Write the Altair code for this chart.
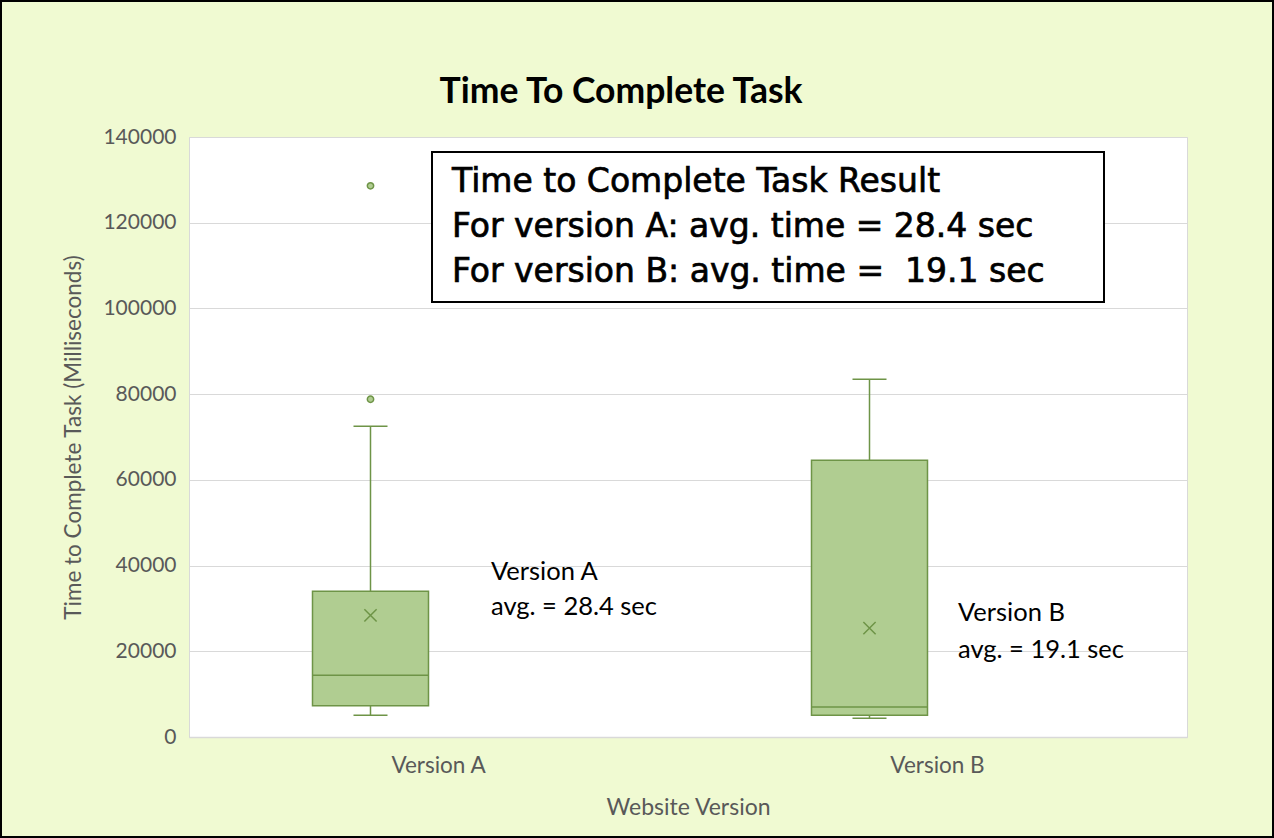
import altair as alt
import pandas as pd

# ---- data ----
versions = ["Version A", "Version B"]
whisker_low = [5100, 4400]
q1 = [7300, 5100]
median = [14400, 7000]
q3 = [34000, 64600]
whisker_high = [72500, 83500]
mean = [28400, 25400]
outlier_version = ["Version A", "Version A"]
outlier_value = [78800, 128600]
y_ticks = [0, 20000, 40000, 60000, 80000, 100000, 120000, 140000]

chart_title = "Time To Complete Task"
box_lines = [
    "Time to Complete Task Result",
    "For version A: avg. time = 28.4 sec",
    "For version B: avg. time =\u00a0 19.1 sec",
]
note_a = ["Version A", "avg. = 28.4 sec"]
note_b = ["Version B", "avg. = 19.1 sec"]

summary = pd.DataFrame({
    "version": versions, "low": whisker_low, "q1": q1, "median": median,
    "q3": q3, "high": whisker_high, "mean": mean,
})
outliers = pd.DataFrame({"version": outlier_version, "value": outlier_value})

FILL = "#B0CD91"
STROKE = "#6E9447"
GREY = "#595959"
FONT = "Lato"
NOTE_FONT = "DejaVu Sans"
OFF = -68
W, H = 998, 600

x = alt.X(
    "version:N",
    scale=alt.Scale(domain=versions, paddingInner=0, paddingOuter=0),
    axis=alt.Axis(
        title="Website Version", labelAngle=0, ticks=False,
        domainColor="#D9D9D9", domainWidth=1.5,
        labelFont=FONT, labelFontSize=22.5, labelColor=GREY, labelPadding=17,
        titleFont=FONT, titleFontSize=23, titleFontWeight="normal",
        titleColor=GREY, titlePadding=20,
    ),
)
yscale = alt.Scale(domain=[0, 140000], nice=False)
y = alt.Y(
    "low:Q", scale=yscale,
    axis=alt.Axis(
        values=y_ticks, format="d", domain=False, ticks=False,
        gridColor="#D9D9D9", gridWidth=1,
        title="Time to Complete Task (Milliseconds)",
        labelFont=FONT, labelFontSize=21, labelColor=GREY, labelPadding=13,
        titleFont=FONT, titleFontSize=22.5, titleFontWeight="normal",
        titleColor=GREY, titlePadding=17,
    ),
)

base = alt.Chart(summary)

whisker = base.mark_rule(color=STROKE, strokeWidth=1.5, xOffset=OFF).encode(
    x=x, y=y, y2="high:Q")
box = base.mark_bar(width=116, xOffset=OFF, fill=FILL, stroke=STROKE,
                    strokeWidth=1.5).encode(
    x=x, y=alt.Y("q1:Q", scale=yscale), y2="q3:Q")
med = base.mark_tick(size=116, thickness=1.5, color=STROKE, opacity=1,
                     xOffset=OFF).encode(x=x, y=alt.Y("median:Q", scale=yscale))
cap_lo = base.mark_tick(size=34, thickness=1.5, color=STROKE, opacity=1,
                        xOffset=OFF).encode(x=x, y=alt.Y("low:Q", scale=yscale))
cap_hi = base.mark_tick(size=34, thickness=1.5, color=STROKE, opacity=1,
                        xOffset=OFF).encode(x=x, y=alt.Y("high:Q", scale=yscale))
mean_pt = base.mark_point(shape="M-1,-1L1,1M1,-1L-1,1", size=150, strokeWidth=1.5,
                          color=STROKE, filled=False, opacity=1,
                          xOffset=OFF).encode(x=x, y=alt.Y("mean:Q", scale=yscale))
out_pt = alt.Chart(outliers).mark_point(shape="circle", size=40, filled=True,
                                        fill=FILL, stroke=STROKE, strokeWidth=1.5,
                                        opacity=1, xOffset=OFF).encode(
    x=x, y=alt.Y("value:Q", scale=yscale))

one = pd.DataFrame({"k": [0]})
text_box = alt.Chart(one).mark_rect(fill="white", stroke="black", strokeWidth=2).encode(
    x=alt.value(243), x2=alt.value(915), y=alt.value(15), y2=alt.value(165))

layers = [whisker, box, med, cap_lo, cap_hi, mean_pt, out_pt, text_box]

layers.append(alt.Chart(pd.DataFrame({"t": [chart_title]})).mark_text(
    align="center", baseline="alphabetic", font=FONT, fontSize=35.5,
    fontWeight="bold", color="black").encode(
    text="t:N", x=alt.value(432), y=alt.value(-34)))

for i, line in enumerate(box_lines):
    layers.append(alt.Chart(pd.DataFrame({"t": [line]})).mark_text(
        align="left", baseline="alphabetic", font=NOTE_FONT, fontSize=33,
        fill="black", stroke="black", strokeWidth=0.7).encode(
        text="t:N", x=alt.value(263), y=alt.value(55 + 45 * i)))
for i, line in enumerate(note_a):
    layers.append(alt.Chart(pd.DataFrame({"t": [line]})).mark_text(
        align="left", baseline="alphabetic", font=FONT, fontSize=25.5,
        color="black").encode(text="t:N", x=alt.value(302), y=alt.value(443 + 35 * i)))
for i, line in enumerate(note_b):
    layers.append(alt.Chart(pd.DataFrame({"t": [line]})).mark_text(
        align="left", baseline="alphabetic", font=FONT, fontSize=25.5,
        color="black").encode(text="t:N", x=alt.value(769), y=alt.value(484 + 37 * i)))

border = alt.Chart(one).mark_rect(fill=None, stroke="black", strokeWidth=2).encode(
    x=alt.value(-188), x2=alt.value(1084), y=alt.value(-136), y2=alt.value(700))
layers.append(border)

chart = alt.layer(*layers).properties(
    width=W, height=H,
    autosize=alt.AutoSizeParams(type="none"),
    padding={"left": 189, "top": 137, "right": 87, "bottom": 101},
).configure(background="#F0FAD2").configure_view(fill="white", stroke="#D9D9D9")

chart.save("out.html", embed_options={"renderer": "svg", "actions": False})
